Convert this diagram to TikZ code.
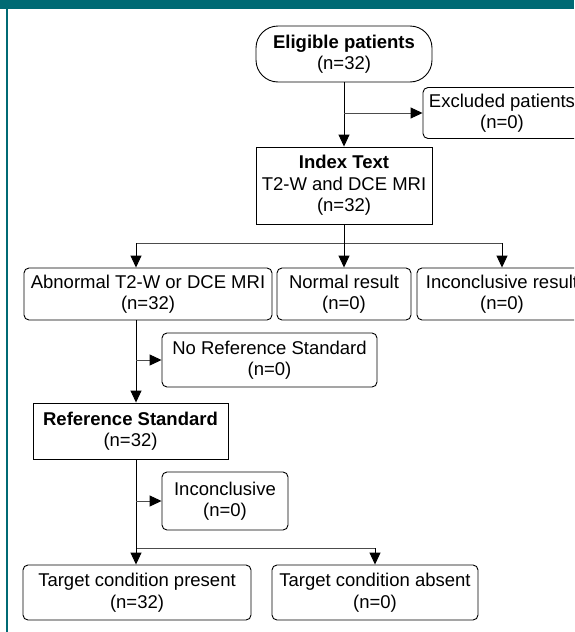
\documentclass[tikz,border=0pt]{standalone}
\usepackage{fontspec}
\setmainfont{Liberation Sans}
\usetikzlibrary{arrows.meta}
\definecolor{tealhdr}{RGB}{0,106,116}
\begin{document}
\begin{tikzpicture}[x=1pt,y=-1pt,
  box/.style={draw=black,line width=0.9pt,rounded corners=5pt,align=center,inner sep=0pt,
    font=\fontsize{18.5}{21.5}\selectfont},
  sqbox/.style={box,sharp corners},
  conn/.style={line width=1pt,-{Triangle[length=12pt,width=11pt,color=black]}},
  hconn/.style={conn,draw=black!70},
  ln/.style={line width=1pt},
  hln/.style={line width=0.9pt,draw=black!70}]
\useasboundingbox (0,0) rectangle (574,632);
\clip (0,0) rectangle (574,632);
% frame
\fill[tealhdr] (0,0) rectangle (574,9);
\fill[tealhdr] (5.5,9) rectangle (7.5,632);
% nodes
\node[box,rounded corners=22pt,minimum width=176pt,minimum height=56pt] (elig) at (344,54) {\textbf{Eligible patients}\\(n=32)};
\node[box,minimum width=158pt,minimum height=51pt] (excl) at (502,113) {Excluded patients\\(n=0)};
\node[sqbox,minimum width=176pt,minimum height=77pt] (index) at (344,185.5) {\textbf{Index Text}\\T2-W and DCE MRI\\(n=32)};
\node[box,minimum width=248pt,minimum height=52pt] (abn) at (148,294) {Abnormal T2-W or DCE MRI\\(n=32)};
\node[box,minimum width=134pt,minimum height=52pt] (norm) at (344,294) {Normal result\\(n=0)};
\node[box,minimum width=170pt,minimum height=52pt] (incres) at (502,294) {Inconclusive result\\(n=0)};
\node[box,minimum width=215pt,minimum height=54pt] (noref) at (269.5,360) {No Reference Standard\\(n=0)};
\node[sqbox,minimum width=195pt,minimum height=56pt] (refstd) at (130.5,431) {\textbf{Reference Standard}\\(n=32)};
\node[box,minimum width=126pt,minimum height=58pt] (incl) at (225,501) {Inconclusive\\(n=0)};
\node[box,minimum width=228pt,minimum height=55pt] (tpres) at (137,592.5) {Target condition present\\(n=32)};
\node[box,minimum width=206pt,minimum height=55pt] (tabs) at (375,592.5) {Target condition absent\\(n=0)};
% junctions
\coordinate (j1) at (344,243);
\coordinate (a1) at (136,243);
\coordinate (j2) at (136,548);
% connectors
\draw[conn] (elig) -- (index);
\draw[hconn] (elig.south |- excl.west) -- (excl.west);
\draw[ln] (index.south) -- (j1);
\draw[hln] (a1) -- (incres.north |- a1);
\draw[conn] (a1) -- (a1 |- abn.north);
\draw[conn] (j1) -- (norm.north);
\draw[conn] (incres.north |- a1) -- (incres.north);
\draw[conn] (a1 |- abn.south) -- (a1 |- refstd.north);
\draw[hconn] (a1 |- noref.west) -- (noref.west);
\draw[ln] (a1 |- refstd.south) -- (j2);
\draw[hconn] (a1 |- incl.west) -- (incl.west);
\draw[hln] (j2) -- (tabs.north |- j2);
\draw[conn] (j2) -- (j2 |- tpres.north);
\draw[conn] (tabs.north |- j2) -- (tabs.north);
\end{tikzpicture}
\end{document}
